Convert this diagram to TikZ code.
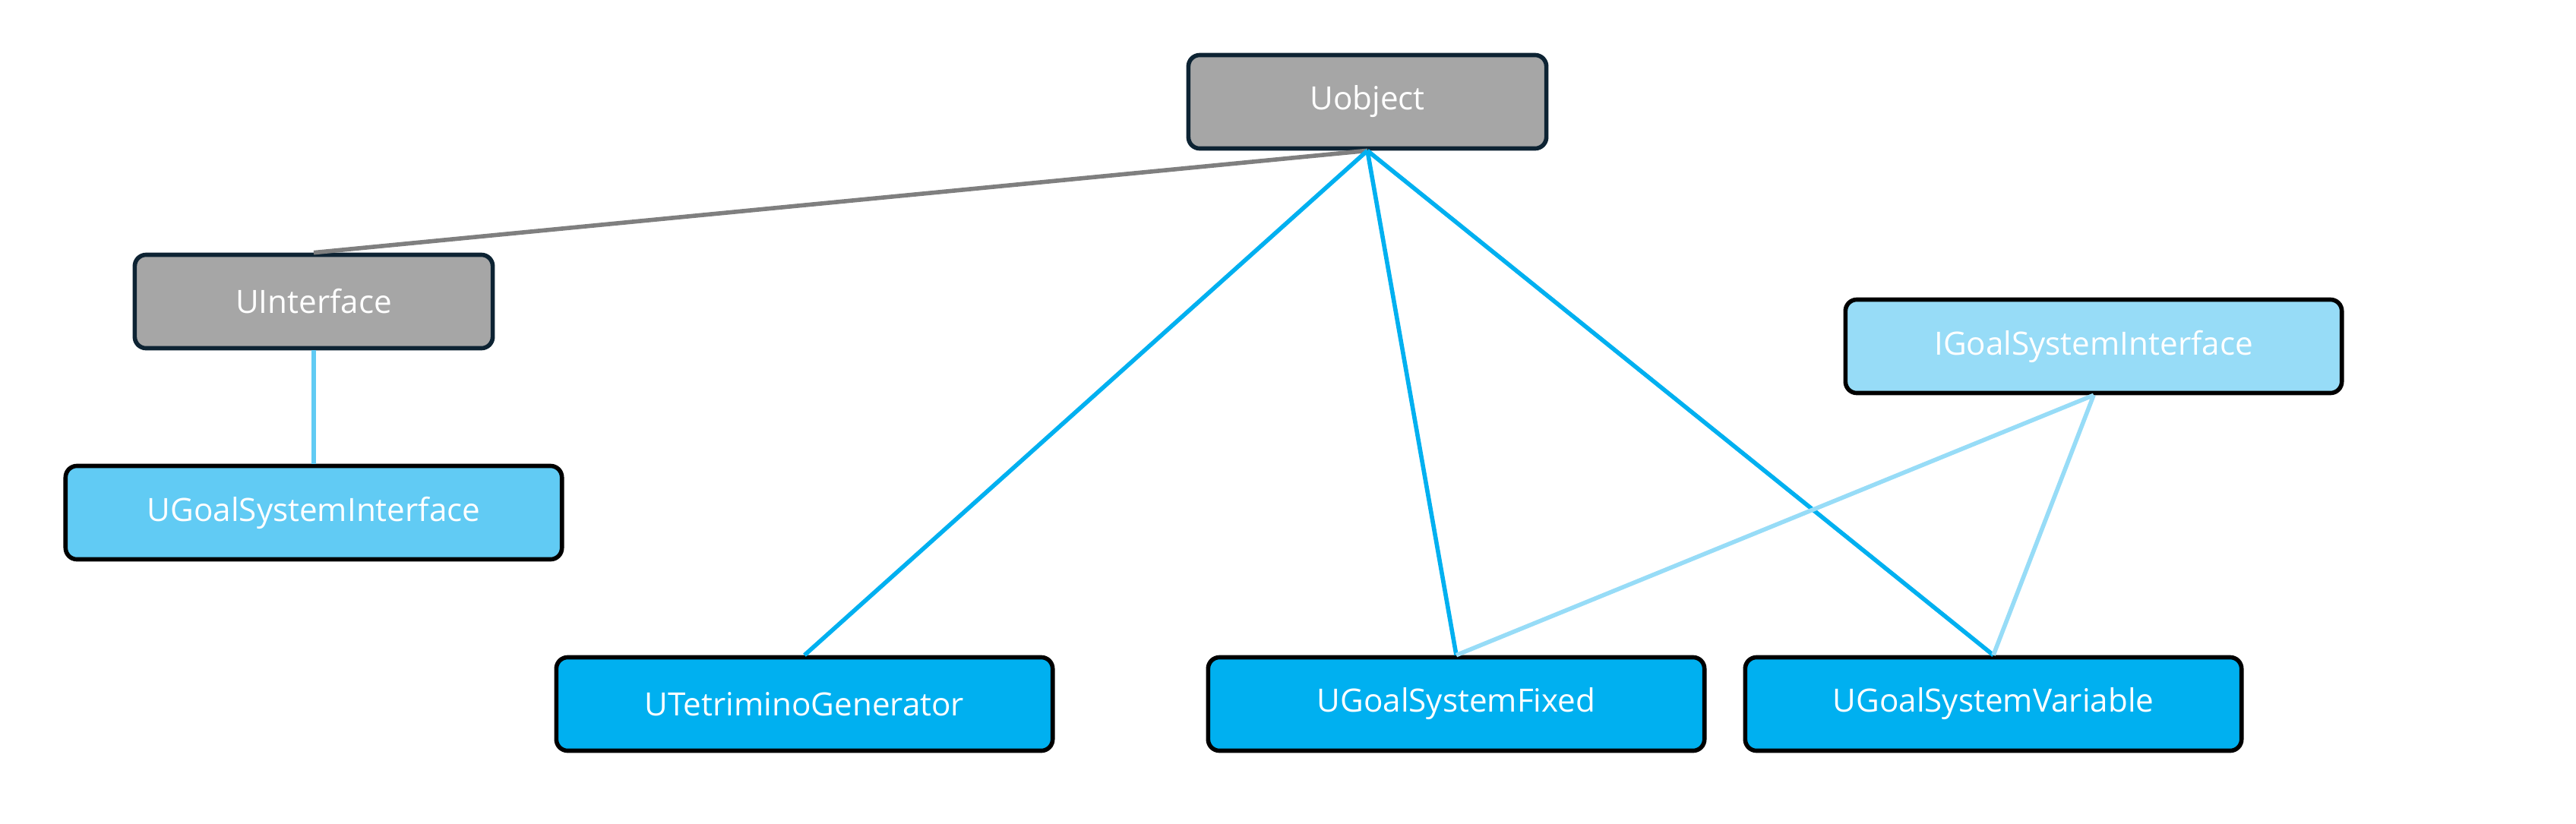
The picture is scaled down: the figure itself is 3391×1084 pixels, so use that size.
\documentclass[tikz,border=0pt]{standalone}
\usepackage{fontspec}
\setmainfont{Open Sans}
\definecolor{greyfill}{HTML}{A6A6A6}
\definecolor{navyline}{HTML}{0D2333}
\definecolor{skyfill}{HTML}{00B0F0}
\definecolor{lightsky}{HTML}{61CBF4}
\definecolor{palesky}{HTML}{97DCF7}
\definecolor{greyline}{HTML}{7F7F7F}

\begin{document}
\begin{tikzpicture}[x=0.01cm, y=-0.01cm,
  cls/.style={rectangle, rounded corners=0.15cm, line width=1.6pt, draw=black,
    minimum width=6.53cm, minimum height=1.23cm, text=white,
    font=\fontsize{12}{15}\selectfont},
  base/.style={cls, fill=greyfill, draw=navyline, minimum width=4.71cm},
  link/.style={line width=1.6pt, skyfill}]
\useasboundingbox (0,0) rectangle (3391,1084);

\node[base] (uobject) at (1800,134) {Uobject};
\node[base] (uinterface) at (413,397) {UInterface};
\node[cls, fill=lightsky] (ugsinterface) at (413,675) {UGoalSystemInterface};
\node[cls, fill=palesky] (igsinterface) at (2756,456) {IGoalSystemInterface};
\node[cls, fill=skyfill] (tetrimino) at (1059,927) {UTetriminoGenerator};
\node[cls, fill=skyfill] (gsfixed) at (1917,927) {UGoalSystemFixed};
\node[cls, fill=skyfill] (gsvariable) at (2624,927) {UGoalSystemVariable};

\draw[link, greyline] (uobject.south) -- (uinterface.north);
\draw[link, lightsky] (uinterface.south) -- (ugsinterface.north);
\draw[link] (uobject.south) -- (tetrimino.north);
\draw[link] (uobject.south) -- (gsfixed.north);
\draw[link] (uobject.south) -- (gsvariable.north);
\draw[link, palesky] (igsinterface.south) -- (gsfixed.north);
\draw[link, palesky] (igsinterface.south) -- (gsvariable.north);
\end{tikzpicture}
\end{document}
